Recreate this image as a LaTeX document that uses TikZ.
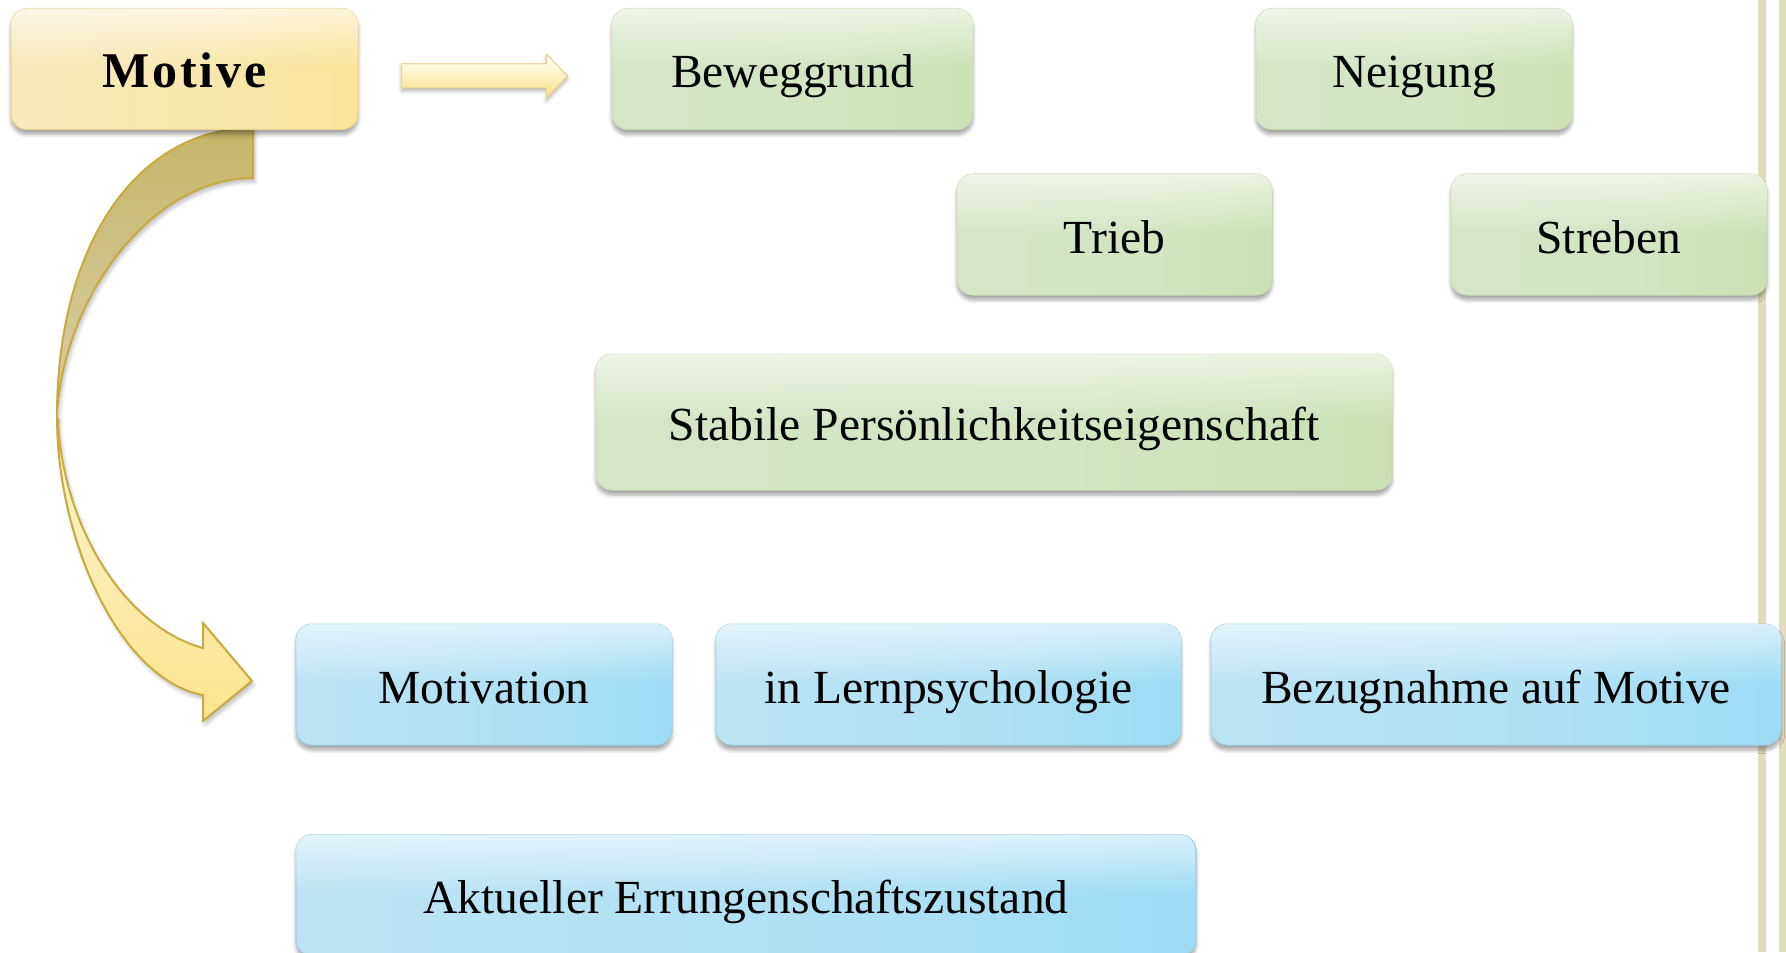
\documentclass[tikz,border=0pt]{standalone}
\usepackage{fontspec}
\setmainfont{Liberation Serif}
\usetikzlibrary{positioning,calc,shadows.blur,fadings}

\definecolor{yelE}{HTML}{E9DCA9}
\definecolor{yelA}{HTML}{F6EBC5}
\definecolor{yelM}{HTML}{F8E7AD}
\definecolor{yelB}{HTML}{FBE182}
\definecolor{yelF}{HTML}{F1D676}
\definecolor{yelC}{HTML}{EAD690}
\definecolor{grnE}{HTML}{C4D6B4}
\definecolor{grnA}{HTML}{D7E5CA}
\definecolor{grnM}{HTML}{D3E5C1}
\definecolor{grnB}{HTML}{C4DEA6}
\definecolor{grnF}{HTML}{B7D498}
\definecolor{grnC}{HTML}{CADDB6}
\definecolor{bluE}{HTML}{A8D3E7}
\definecolor{bluA}{HTML}{C3E5F4}
\definecolor{bluM}{HTML}{B0E0F5}
\definecolor{bluB}{HTML}{8AD6F6}
\definecolor{bluF}{HTML}{7ECBEA}
\definecolor{bluC}{HTML}{9DD0E5}
\definecolor{tanA}{HTML}{C7B569}
\definecolor{tanB}{HTML}{D8CFA6}
\definecolor{goldA}{HTML}{FEF6D4}
\definecolor{goldB}{HTML}{FCE38E}
\definecolor{goldline}{HTML}{C9AA3C}
\definecolor{rule}{HTML}{E3DBBE}

\pgfdeclarehorizontalshading{yshade}{100bp}{color(0bp)=(yelE); color(6bp)=(yelA); color(55bp)=(yelM); color(94bp)=(yelB); color(100bp)=(yelF)}
\pgfdeclarehorizontalshading{gshade}{100bp}{color(0bp)=(grnE); color(6bp)=(grnA); color(55bp)=(grnM); color(94bp)=(grnB); color(100bp)=(grnF)}
\pgfdeclarehorizontalshading{bshade}{100bp}{color(0bp)=(bluE); color(6bp)=(bluA); color(55bp)=(bluM); color(94bp)=(bluB); color(100bp)=(bluF)}

\begin{tikzfadingfrompicture}[name=glow]
  \fill [transparent!100] (-50bp,-50bp) rectangle (50bp,50bp);
  \shade [top color=transparent!0, bottom color=transparent!100] (-50bp,0bp) rectangle (50bp,40bp);
  \fill [transparent!0] (-50bp,40bp) rectangle (50bp,50bp);
\end{tikzfadingfrompicture}

\begin{document}
\begin{tikzpicture}[x=0.5pt,y=-0.5pt,
    pill/.style={rounded corners=8pt, inner sep=0pt, minimum height=60.5pt,
      text height=18.5pt, text depth=0pt,
      font=\fontsize{23.75}{28}\selectfont, line width=0.5pt,
      blur shadow={shadow xshift=0pt, shadow yshift=-2.5pt, shadow blur steps=6, shadow opacity=35},
      postaction={fill=white, path fading=glow}},
    ybox/.style={pill, shade, shading=yshade, draw=yelC},
    gbox/.style={pill, shade, shading=gshade, draw=grnC},
    bbox/.style={pill, shade, shading=bshade, draw=bluC},
    curveline/.style={draw=goldline, line width=1pt, line join=miter,
      blur shadow={shadow xshift=1pt, shadow yshift=-2pt, shadow blur steps=5, shadow opacity=25}}]
    \useasboundingbox (0,0) rectangle (1786,952);
    \clip (0,0) rectangle (1786,952);

    % page rules
    \fill [rule] (1758,0) rectangle (1766,952);
    \fill [rule] (1779,0) rectangle (1786,952);

    % curved arrow
    \filldraw [curveline, top color=tanA, bottom color=tanB] (253,128) .. controls (140,128) and (57,240) .. (57,417) .. controls (62,300) and (150,178) .. (253,178) -- cycle;
    \filldraw [curveline, top color=goldA, bottom color=goldB] (57,417) .. controls (57,540) and (120,680) .. (203,695) -- (203,721) -- (252,681) -- (203,623) -- (203,648) .. controls (120,625) and (62,520) .. (58,420) -- cycle;

    % first row
    \node [ybox, minimum width=173.5pt, font=\fontsize{25}{28}\selectfont\bfseries\addfontfeatures{LetterSpace=6}, name=mot] at (184.5,69) {Motive};
    \node [gbox, minimum width=180.5pt, name=bew] at (792.5,69) {Beweggrund};
    \node [gbox, minimum width=158pt, name=nei] at (1414,69) {Neigung};

    % arrow Motive -> Beweggrund
    \coordinate (a0) at ($(mot.east)+(43,-5)$);
    \filldraw [top color=white, bottom color=yelB, draw=yelC, line width=0.5pt,
      blur shadow={shadow xshift=0pt, shadow yshift=-1.5pt, shadow blur steps=4, shadow opacity=30}]
      (a0) -- ++(145,0) -- ++(0,-10) -- ++(21,22) -- ++(-21,22) -- ++(0,-10) -- ++(-145,0) -- cycle;

    % second row
    \node [gbox, minimum width=157.5pt, name=tri] at (1114.5,234.5) {Trieb};
    \node [gbox, minimum width=158pt, name=str] at (1609,234.5) {Streben};
    \node [gbox, minimum width=398pt, minimum height=68pt, name=sta] at (994,422) {Stabile Persönlichkeitseigenschaft};

    % motivation
    \node [bbox, minimum width=188pt, name=mtv] at (484,684.5) {Motivation};
    \node [bbox, minimum width=232.5pt, name=lern] at (948.5,684.5) {in Lernpsychologie};
    \node [bbox, minimum width=285pt, name=bez] at (1496,684.5) {Bezugnahme auf Motive};
    \node [bbox, minimum width=450pt, name=akt] at (746,895) {Aktueller Errungenschaftszustand};
\end{tikzpicture}
\end{document}
